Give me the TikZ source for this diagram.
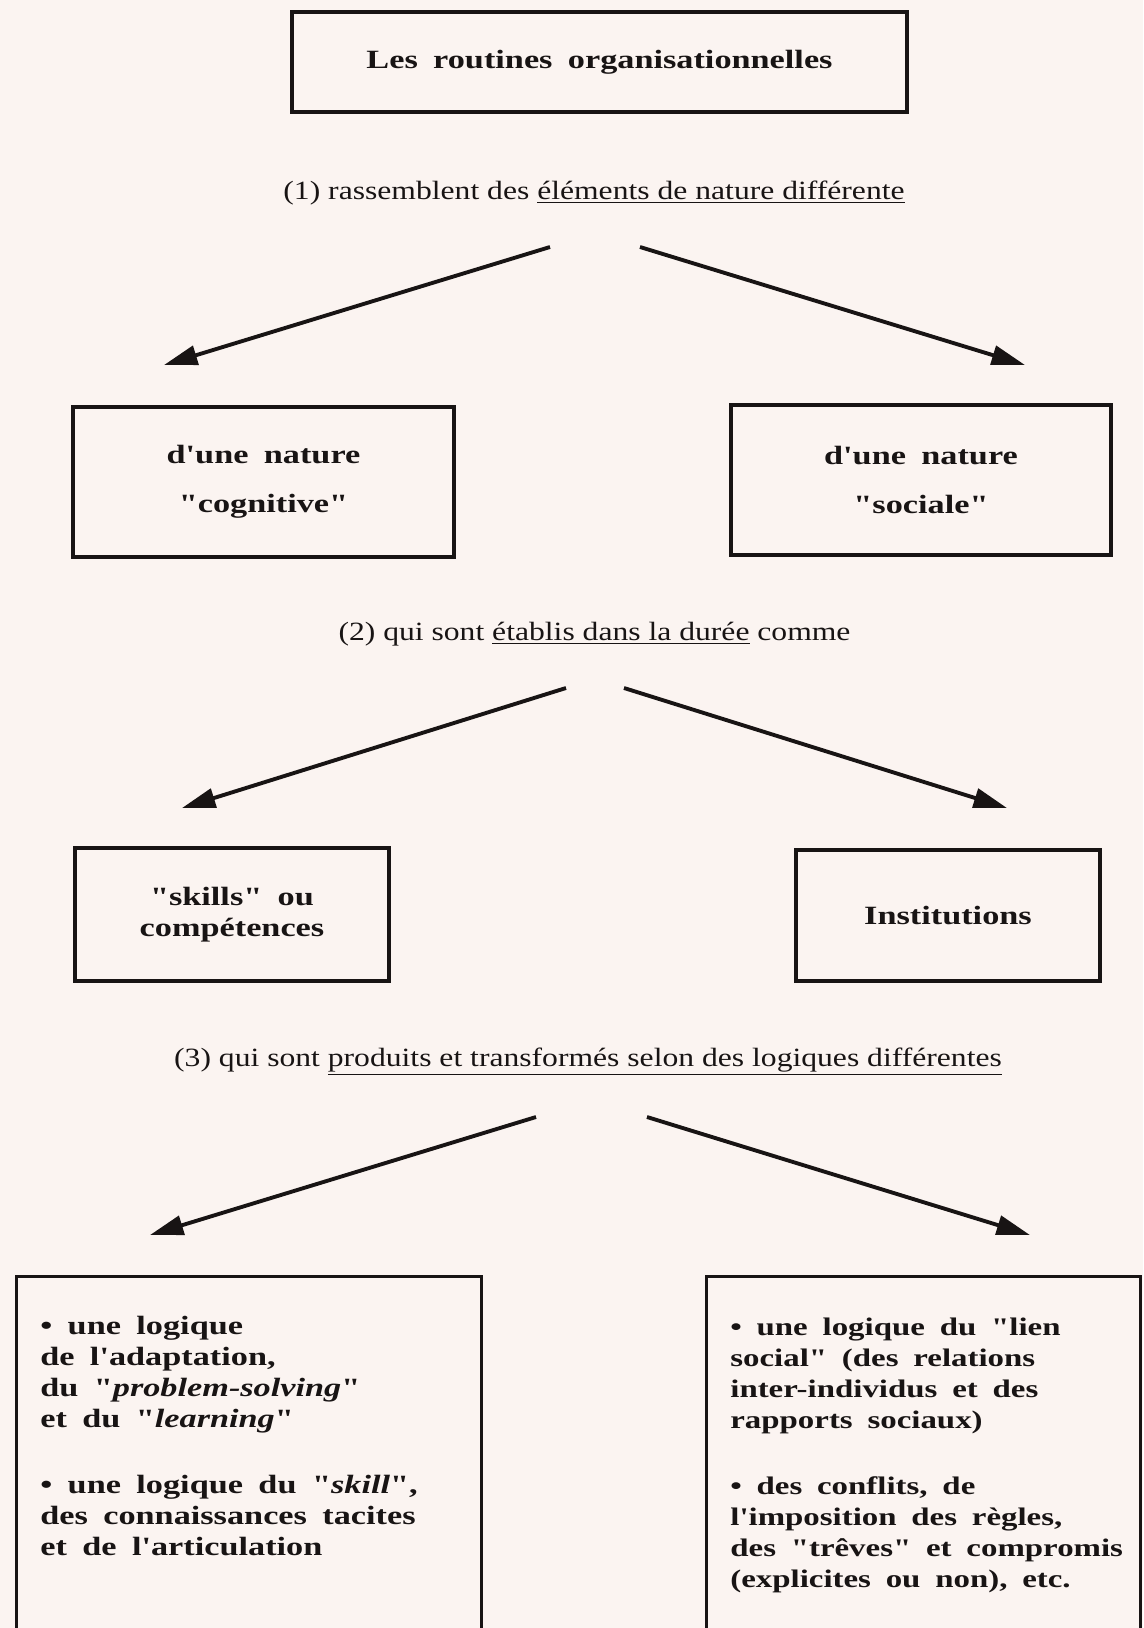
\documentclass[tikz,border=0pt]{standalone}
\usepackage{fontspec}
\usepackage{tikz}
\usetikzlibrary{arrows.meta,positioning}

\newfontfamily\labfont[FakeStretch=1.2]{Liberation Serif}
\newfontfamily\boxfont[FakeStretch=1.3,WordSpace=1.8]{Liberation Serif}
\definecolor{paper}{RGB}{251,244,241}
\definecolor{ink}{RGB}{24,20,20}

\tikzset{
  box/.style={draw=ink, line width=1.8pt, text=ink, align=center,
    font=\boxfont\bfseries\fontsize{15}{18}\selectfont},
  lab/.style={text=ink, font=\labfont\fontsize{15}{17}\selectfont},
  arr/.style={draw=ink, line width=2.2pt, -{Triangle[length=19pt,width=11pt]}},
  logtext/.style={text=ink, align=left, inner sep=0pt,
    font=\boxfont\bfseries\fontsize{15}{17.6}\selectfont}
}

\begin{document}
\begin{tikzpicture}[x=0.02cm,y=-0.02cm]
\useasboundingbox (0,0) rectangle (1143,1628);
\fill[paper] (0,0) rectangle (1143,1628);
\clip (0,0) rectangle (1143,1628);

% title and first split
\node[box, minimum width=12.3cm, minimum height=2cm] (title) at (599.5,62) {Les routines organisationnelles};
\node[lab] (lab1) at (594,193) {(1) rassemblent des \underline{éléments de nature différente}};
\coordinate (s1l) at (550,247);
\coordinate (s1r) at (640,247);
\coordinate (e1l) at (164,365);
\coordinate (e1r) at (1025,365);
\draw[arr] (s1l) -- (e1l);
\draw[arr] (s1r) -- (e1r);

\node[box, minimum width=7.62cm, minimum height=3cm, font=\boxfont\bfseries\fontsize{15}{28}\selectfont] (cog) at (263.5,482) {d'une nature\\"cognitive"};
\node[box, minimum width=7.6cm, minimum height=3cm, font=\boxfont\bfseries\fontsize{15}{28}\selectfont] (soc) at (921,480) {d'une nature\\"sociale"};

% second split
\node[lab] (lab2) at (594.5,634) {(2) qui sont \underline{établis dans la durée} comme};
\coordinate (s2l) at (566,688);
\coordinate (s2r) at (624,688);
\coordinate (e2l) at (182,808);
\coordinate (e2r) at (1007,808);
\draw[arr] (s2l) -- (e2l);
\draw[arr] (s2r) -- (e2r);

\node[box, minimum width=6.28cm, minimum height=2.66cm] (skill) at (232,914.5) {"skills" ou\\compétences};
\node[box, minimum width=6.08cm, minimum height=2.62cm] (inst) at (948,915.5) {Institutions};

% third split
\node[lab] (lab3) at (588,1062) {(3) qui sont \underline{produits et transformés selon des logiques différentes}};
\coordinate (s3l) at (536,1117);
\coordinate (s3r) at (647,1117);
\coordinate (e3l) at (150,1235);
\coordinate (e3r) at (1030,1235);
\draw[arr] (s3l) -- (e3l);
\draw[arr] (s3r) -- (e3r);

\node[box, anchor=north west, minimum width=9.3cm, minimum height=8.5cm] (logA) at (15,1275) {};
\node[box, anchor=north west, minimum width=8.68cm, minimum height=8.5cm] (logB) at (705,1275) {};
\node[logtext, anchor=north west] (txtA) at (40,1316) {• une logique\\
de l'adaptation,\\
du "\textit{problem-solving}"\\
et du "\textit{learning}"\\[20pt]
• une logique du "\textit{skill}",\\
des connaissances tacites\\
et de l'articulation};
\node[logtext, anchor=north west, font=\boxfont\bfseries\fontsize{14.4}{17.6}\selectfont] (txtB) at (730,1318) {• une logique du "lien\\
social" (des relations\\
inter-individus et des\\
rapports sociaux)\\[20pt]
• des conflits, de\\
l'imposition des règles,\\
des "trêves" et compromis\\
(explicites ou non), etc.};
\end{tikzpicture}
\end{document}
